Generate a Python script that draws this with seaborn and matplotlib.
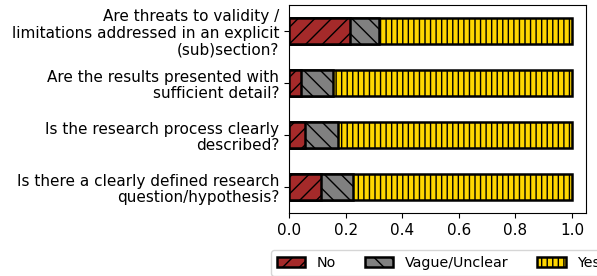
import pandas as pd
import matplotlib
matplotlib.use("Agg")
import matplotlib.pyplot as plt
import seaborn as sns

# Questions (top to bottom) and share of answers
questions = [
    "Are threats to validity /\nlimitations addressed in an explicit\n(sub)section?",
    "Are the results presented with\nsufficient detail?",
    "Is the research process clearly\ndescribed?",
    "Is there a clearly defined research\nquestion/hypothesis?",
]
no_share = [0.215, 0.042, 0.057, 0.112]
vague_share = [0.103, 0.115, 0.116, 0.115]
yes_share = [1 - n - v for n, v in zip(no_share, vague_share)]

df = pd.DataFrame({
    "question": questions,
    "No": no_share,
    "Vague/Unclear": vague_share,
    "Yes": yes_share,
})
# cumulative ends for the stacked look
df["end_no"] = df["No"]
df["end_vague"] = df["No"] + df["Vague/Unclear"]
df["end_yes"] = df["end_vague"] + df["Yes"]

plt.rcParams["font.size"] = 11

fig = plt.figure(figsize=(5.97, 2.76), dpi=100)
ax = fig.add_axes([0.484, 0.228, 0.498, 0.754])

# draw from the longest segment down so each shorter one sits on top
layers = [
    ("end_yes", "Yes", "#FFD700", "|||"),
    ("end_vague", "Vague/Unclear", "grey", "\\\\"),
    ("end_no", "No", "brown", "//"),
]
for col, label, color, hatch in layers:
    sns.barplot(data=df, x=col, y="question", orient="h", color=color,
                saturation=1, width=0.5, edgecolor="black", linewidth=1.8,
                hatch=hatch, label=label, ax=ax)

ax.set_xlim(0, 1.05)
ax.set_xlabel("")
ax.set_ylabel("")
ax.set_xticks([0, 0.2, 0.4, 0.6, 0.8, 1.0])
for t in ax.get_yticklabels():
    t.set_linespacing(1.12)

handles, labels = ax.get_legend_handles_labels()
ax.legend(handles[::-1], labels[::-1], loc="upper left",
          bbox_to_anchor=(-0.084, -0.145), ncol=3, frameon=True,
          fontsize=10.3)

fig.savefig("out.png", dpi=100)
